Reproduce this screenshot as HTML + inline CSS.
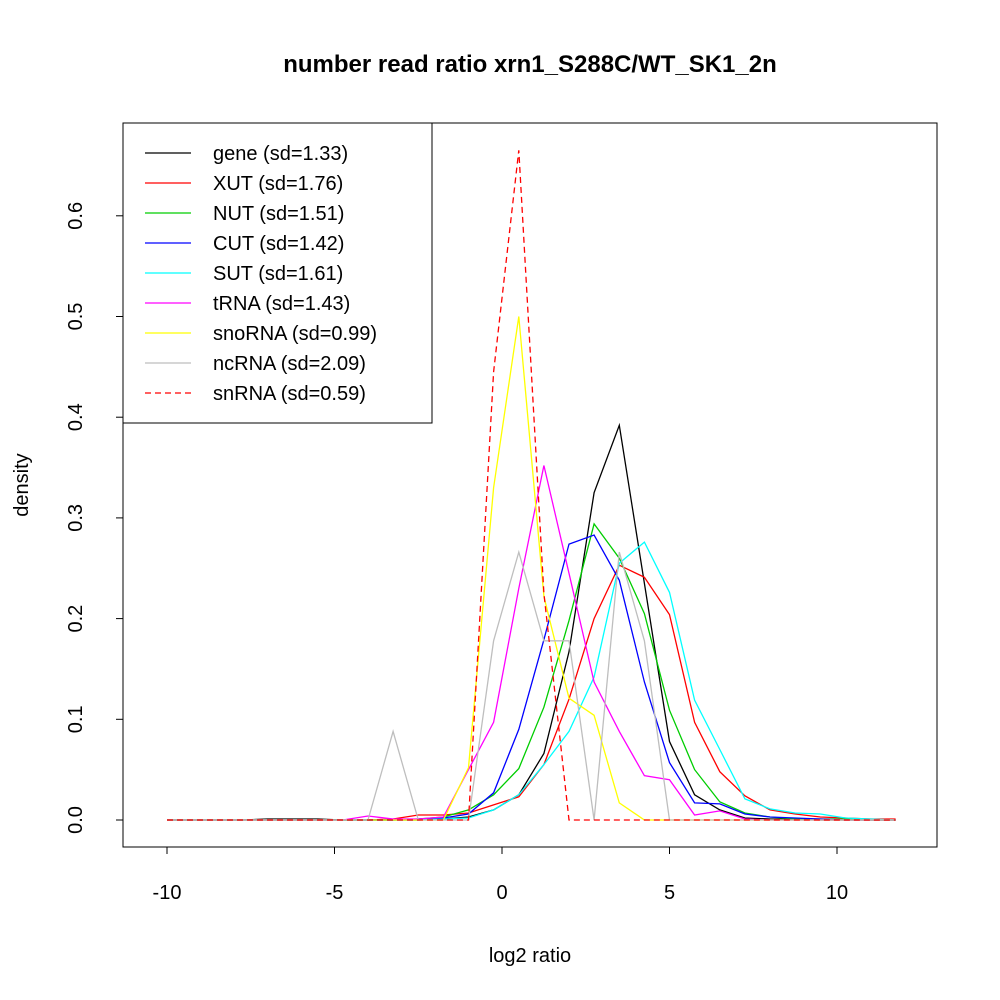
<!DOCTYPE html>
<html><head><meta charset="utf-8"><style>body{margin:0;background:#fff}svg{display:block;font-family:"Liberation Sans",sans-serif}</style></head>
<body>
<svg id="chart" width="1000" height="1000" viewBox="0 0 1000 1000">
<rect x="0" y="0" width="1000" height="1000" fill="#fff"/>
<text x="530" y="72" text-anchor="middle" font-size="24" font-weight="bold">number read ratio xrn1_S288C/WT_SK1_2n</text>
<rect x="123" y="123" width="814" height="724" fill="none" stroke="#000" stroke-width="1"/>
<g id="xaxis"></g>
<g id="yaxis"></g>
<text x="530" y="962" text-anchor="middle" font-size="20">log2 ratio</text>
<text x="0" y="0" transform="translate(28,485) rotate(-90)" text-anchor="middle" font-size="20">density</text>
<g id="series"></g>
<g id="legend">
<rect x="123" y="123" width="309" height="300" fill="#fff" stroke="#000" stroke-width="1"/>
</g>
</svg>
<script>
const xStart = -10, xStep = 0.75;
const xTicks = [-10, -5, 0, 5, 10];
const yTicks = [0.0, 0.1, 0.2, 0.3, 0.4, 0.5, 0.6];
const yTickLabels = ["0.0","0.1","0.2","0.3","0.4","0.5","0.6"];
const seriesNames = ["gene (sd=1.33)","XUT (sd=1.76)","NUT (sd=1.51)","CUT (sd=1.42)","SUT (sd=1.61)","tRNA (sd=1.43)","snoRNA (sd=0.99)","ncRNA (sd=2.09)","snRNA (sd=0.59)"];
const gene   = [0,0,0,0,0.001,0.001,0.001,0,0,0,0,0.001,0.003,0.01,0.025,0.066,0.167,0.325,0.392,0.235,0.078,0.025,0.01,0.002,0.001,0.001,0,0,0,0];
const xut    = [0,0,0,0,0,0,0,0,0,0.001,0.005,0.005,0.007,0.015,0.023,0.055,0.12,0.2,0.253,0.241,0.204,0.097,0.048,0.024,0.01,0.006,0.003,0.002,0.001,0.001];
const nut    = [0,0,0,0,0,0,0,0,0,0,0.001,0.003,0.01,0.025,0.051,0.112,0.198,0.294,0.26,0.205,0.109,0.05,0.018,0.007,0.003,0.001,0.001,0.001,0,0];
const cut    = [0,0,0,0,0,0,0,0,0,0,0.001,0.002,0.006,0.027,0.09,0.179,0.274,0.283,0.238,0.137,0.057,0.017,0.016,0.006,0.003,0.002,0.001,0,0,0];
const sut    = [0,0,0,0,0,0,0,0,0,0,0,0.001,0.002,0.01,0.025,0.055,0.088,0.142,0.255,0.276,0.226,0.119,0.07,0.021,0.011,0.007,0.006,0.002,0.001,0];
const trna   = [0,0,0,0,0,0,0,0,0.004,0.001,0.001,0.003,0.05,0.097,0.23,0.352,0.245,0.137,0.088,0.044,0.04,0.005,0.009,0.001,0,0,0,0,0,0];
const snorna = [0,0,0,0,0,0,0,0,0,0,0,0,0.052,0.33,0.5,0.222,0.121,0.104,0.017,0,0,0,0,0,0,0,0,0,0,0];
const ncrna  = [0,0,0,0,0,0,0,0,0,0.088,0,0,0,0.178,0.266,0.178,0.178,0,0.266,0.178,0,0,0,0,0,0,0,0,0,0];
const snrna  = [0,0,0,0,0,0,0,0,0,0,0,0,0,0.445,0.665,0.225,0,0,0,0,0,0,0,0,0,0,0,0,0,0];
const seriesData = [gene,xut,nut,cut,sut,trna,snorna,ncrna,snrna];
const colors = ["#000000","#ff0000","#00cd00","#0000ff","#00ffff","#ff00ff","#ffff00","#bebebe","#ff0000"];
const seriesKeys = ["gene","xut","nut","cut","sut","trna","snorna","ncrna","snrna"];

const NS = "http://www.w3.org/2000/svg";
const xs = v => 502 + v * 33.5;
const ys = v => 820 - v * 1007;
function mk(tag, attrs, parent){const e=document.createElementNS(NS,tag);for(const k in attrs)e.setAttribute(k,attrs[k]);parent.appendChild(e);return e;}

const xa = document.getElementById('xaxis');
let l = mk('line',{x1:xs(xTicks[0]),x2:xs(xTicks[xTicks.length-1]),y1:847,y2:847,stroke:'#000'},xa);


xTicks.forEach(t=>{
  const tk = mk('line',{x1:xs(t),x2:xs(t),y1:847,y2:854,stroke:'#000'},xa);
  
  
  const tx = mk('text',{x:xs(t),y:899,'text-anchor':'middle','font-size':20},xa);
  tx.textContent = String(t);
  
  
});
const ya = document.getElementById('yaxis');
l = mk('line',{x1:123,x2:123,y1:ys(yTicks[0]),y2:ys(yTicks[yTicks.length-1]),stroke:'#000'},ya);


yTicks.forEach((t,i)=>{
  const tk = mk('line',{x1:116,x2:123,y1:ys(t),y2:ys(t),stroke:'#000'},ya);
  
  
  const tx = mk('text',{x:0,y:0,transform:`translate(82,${ys(t)}) rotate(-90)`,'text-anchor':'middle','font-size':20},ya);
  tx.textContent = yTickLabels[i];
  
  
});

const sg = document.getElementById('series');
seriesData.forEach((arr,si)=>{
  const pts = arr.map((v,i)=>xs(xStart+i*xStep).toFixed(1)+','+ys(v).toFixed(1)).join(' ');
  const p = mk('polyline',{points:pts,fill:'none',stroke:colors[si],'stroke-width':1.3},sg);
  if(si===8) p.setAttribute('stroke-dasharray','6,4');
  
  
});

const lg = document.getElementById('legend');
seriesNames.forEach((n,i)=>{
  const y = 153 + i*30;
  const ln = mk('line',{x1:145,x2:191,y1:y,y2:y,stroke:colors[i],'stroke-width':1.3},lg);
  if(i===8) ln.setAttribute('stroke-dasharray','6,4');
  
  
  const tx = mk('text',{x:213,y:y+7,'font-size':20},lg);
  tx.textContent = n;
  
  
});
</script>
</body></html>
